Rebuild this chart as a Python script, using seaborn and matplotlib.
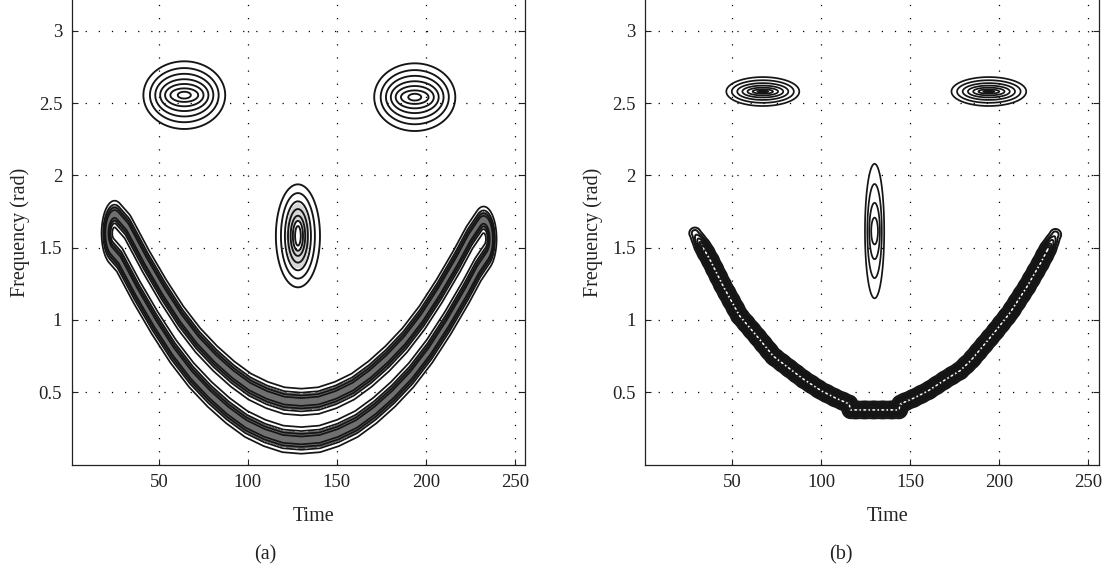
import numpy as np
import matplotlib
matplotlib.use("Agg")
import matplotlib.pyplot as plt
import seaborn as sns

# ---------------- values ----------------
# panel (a)
a_eye_t = [64.2, 193.8]
a_eye_f = [2.555, 2.541]
a_eye_rt = [23.0, 22.8]
a_eye_rf = [0.234, 0.234]
a_eye_ring_h = [1.0, 0.84, 0.71, 0.59, 0.47, 0.34, 0.16]
a_eye_ring_v = [1.0, 0.80, 0.63, 0.47, 0.33, 0.20, 0.10]

a_nose_t, a_nose_f, a_nose_rt, a_nose_rf = 128.1, 1.582, 12.4, 0.356
a_nose_ring_h = [1.0, 0.77, 0.59, 0.45, 0.33, 0.23, 0.13]
a_nose_ring_v = [1.0, 0.83, 0.67, 0.52, 0.39, 0.29, 0.19]

a_mouth_t = [25, 30, 40, 50, 60, 70, 80, 90, 100, 110, 120, 130,
             140, 150, 160, 170, 180, 190, 200, 210, 220, 227, 232.5]
a_mouth_f = [1.60, 1.53, 1.30, 1.09, 0.90, 0.74, 0.61, 0.50, 0.41, 0.35, 0.31, 0.30,
             0.31, 0.35, 0.41, 0.50, 0.61, 0.74, 0.90, 1.09, 1.30, 1.46, 1.56]
a_mouth_line_levels = [0.1, 0.32, 0.58, 0.82]

# panel (b)
b_eye_t = [67.1, 194.1]
b_eye_f = [2.58, 2.58]
b_eye_rt = [20.5, 21.0]
b_eye_rf = [0.10, 0.10]
b_eye_ring_h = [1.0, 0.85, 0.70, 0.56, 0.42, 0.28, 0.15]
b_eye_ring_v = [1.0, 0.78, 0.58, 0.41, 0.27, 0.15, 0.06]

b_nose_t, b_nose_f, b_nose_rt, b_nose_rf = 129.9, 1.615, 5.4, 0.465
b_nose_ring_h = [1.0, 0.75, 0.55, 0.35]
b_nose_ring_v = [1.0, 0.70, 0.42, 0.20]

b_mouth_t = [29, 37.5, 45, 54, 64, 73, 82, 90, 100, 108, 115.5, 116.5, 143.5,
             144.5, 152, 160, 170, 178, 184, 197, 206, 215.5, 223, 231.5]
b_mouth_f = [1.60, 1.415, 1.23, 1.03, 0.885, 0.75, 0.665, 0.59, 0.51, 0.46, 0.42, 0.378,
             0.378, 0.42, 0.46, 0.51, 0.59, 0.65, 0.72, 0.91, 1.05, 1.23, 1.39, 1.59]
b_mouth_levels = [0.1, 0.2, 0.3, 0.42, 0.54, 0.66, 0.78, 0.9]

x_ticks = [50, 100, 150, 200, 250]
y_ticks = [0.5, 1, 1.5, 2, 2.5, 3]
y_ticklabels = ["0.5", "1", "1.5", "2", "2.5", "3"]
x_label = "Time"
y_label = "Frequency (rad)"
panel_labels = ["(a)", "(b)"]

# ---------------- rendering helpers ----------------
PX_T = 1.778   # pixels per time unit
PX_F = 144.6   # pixels per frequency unit

t_grid = np.arange(1, 256.01, 0.3)
f_grid = np.arange(0, 3.22, 0.004)
T, F = np.meshgrid(t_grid, f_grid)

LINE = "#151515"


def draw_rings(ax, t0, f0, rt, rf, fr_h, fr_v, lw):
    for h, v in zip(fr_h, fr_v):
        E = ((T - t0) / (rt * h)) ** 2 + ((F - f0) / (rf * v)) ** 2
        ax.contour(T, F, E, levels=[1.0], colors=LINE, linewidths=lw)


def polyline_distance(pt, pf, alpha):
    U = T * PX_T * alpha
    V = F * PX_F
    pu = np.asarray(pt) * PX_T * alpha
    pv = np.asarray(pf) * PX_F
    seg = np.hypot(np.diff(np.asarray(pt)) * PX_T, np.diff(np.asarray(pf)) * PX_F)
    cum = np.concatenate([[0], np.cumsum(seg)])
    dmin = np.full(T.shape, np.inf)
    arc = np.zeros(T.shape)
    for i in range(len(pu) - 1):
        au, av = pu[i], pv[i]
        bu, bv = pu[i + 1] - au, pv[i + 1] - av
        L2 = bu * bu + bv * bv
        s = np.clip(((U - au) * bu + (V - av) * bv) / L2, 0, 1)
        d = np.hypot(U - (au + s * bu), V - (av + s * bv))
        m = d < dmin
        dmin = np.where(m, d, dmin)
        arc = np.where(m, cum[i] + s * seg[i], arc)
    return dmin, arc, cum[-1]


sns.set_theme(style="ticks")
plt.rcParams["font.family"] = ["Liberation Serif", "DejaVu Serif"]
plt.rcParams["axes.linewidth"] = 0.9

fig = plt.figure(figsize=(11.03, 5.66), dpi=100)
ax_a = fig.add_axes([0.0652, 0.1792, 0.4111, 0.8208])
ax_b = fig.add_axes([0.5849, 0.1792, 0.4115, 0.8208])

# ---- panel (a) ----
for t0, f0, rt, rf in zip(a_eye_t, a_eye_f, a_eye_rt, a_eye_rf):
    draw_rings(ax_a, t0, f0, rt, rf, a_eye_ring_h, a_eye_ring_v, 1.35)
Q = ((T - a_nose_t) / (a_nose_rt * 0.5)) ** 2 + ((F - a_nose_f) / (a_nose_rf * 0.62)) ** 2
ax_a.contourf(T, F, Q, levels=[0.2, 1.0], colors=["#b0b0b0"], alpha=0.5)
draw_rings(ax_a, a_nose_t, a_nose_f, a_nose_rt, a_nose_rf, a_nose_ring_h, a_nose_ring_v, 1.35)
d_a, arc_a, tot_a = polyline_distance(a_mouth_t, a_mouth_f, 2.5)
P_a = np.exp(-0.5 * ((d_a - 19.2) / 6.2) ** 2)
ax_a.contourf(T, F, P_a, levels=[0.45, 1.01], colors=["#707070"])
ax_a.contour(T, F, P_a, levels=a_mouth_line_levels, colors=LINE, linewidths=1.25)

# ---- panel (b) ----
for t0, f0, rt, rf in zip(b_eye_t, b_eye_f, b_eye_rt, b_eye_rf):
    draw_rings(ax_b, t0, f0, rt, rf, b_eye_ring_h, b_eye_ring_v, 1.25)
draw_rings(ax_b, b_nose_t, b_nose_f, b_nose_rt, b_nose_rf, b_nose_ring_h, b_nose_ring_v, 1.25)
d_b, arc_b, tot_b = polyline_distance(b_mouth_t, b_mouth_f, 1.0)
edge = np.clip(np.minimum(arc_b, tot_b - arc_b) / 18.0, 0, 1)
amp = 0.28 + 0.72 * edge ** 1.5
amp = amp * (1 - 0.14 * (0.5 + 0.5 * np.cos(2 * np.pi * arc_b / 9.0)) * edge)
P_b = amp * np.exp(-0.5 * (d_b / 3.96) ** 2)
ax_b.contour(T, F, P_b, levels=b_mouth_levels, colors=LINE, linewidths=1.4)

# ---- axes styling ----
for ax in [ax_a, ax_b]:
    ax.set_xlim(1, 256)
    ax.set_ylim(0, 3.213)
    ax.set_xticks(x_ticks)
    ax.set_xticklabels([str(v) for v in x_ticks])
    ax.set_yticks(y_ticks)
    ax.set_yticklabels(y_ticklabels)
    ax.grid(True, color="black", linestyle=(0, (1, 9.5)), linewidth=0.9)
    ax.set_axisbelow(True)
    ax.tick_params(direction="in", length=4.5, width=0.8, right=True, top=False,
                   labelsize=13.5, pad=7, colors="#222222")
    ax.spines["top"].set_visible(False)
    for s in ["left", "right", "bottom"]:
        ax.spines[s].set_color("#222222")
    ax.set_xlabel(x_label, fontsize=14.5, color="#222222")
    ax.xaxis.set_label_coords(0.534, -0.091)
    ax.set_ylabel(y_label, fontsize=14.5, color="#222222")
    ax.yaxis.set_label_coords(-0.093, 0.5)
    ax.set_facecolor("white")

fig.text(265 / 1103, 1 - 555 / 566, panel_labels[0], ha="center", va="center",
         fontsize=14.5, color="#222222")
fig.text(841 / 1103, 1 - 555 / 566, panel_labels[1], ha="center", va="center",
         fontsize=14.5, color="#222222")

fig.savefig("out.png", dpi=100, facecolor="white")
